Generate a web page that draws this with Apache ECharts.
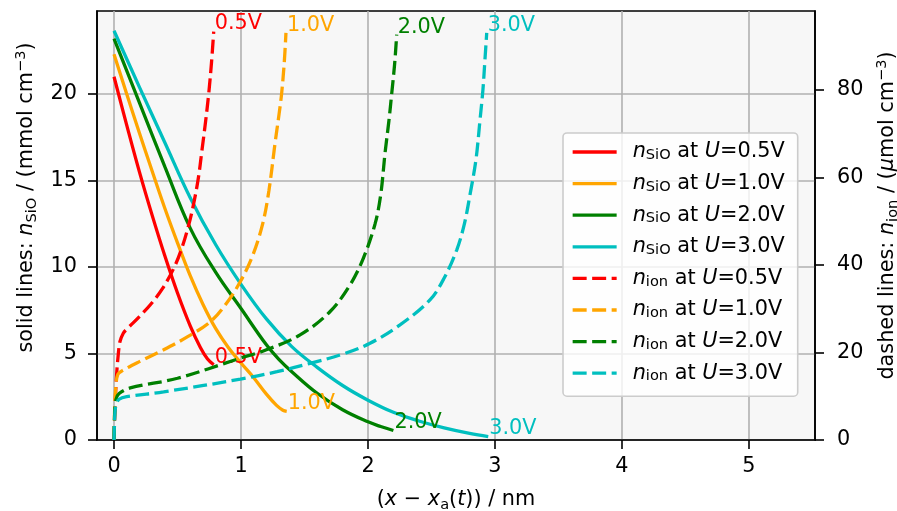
<!DOCTYPE html>
<html><head><meta charset="utf-8">
<script src="https://cdn.jsdelivr.net/npm/echarts@6/dist/echarts.min.js"></script>
<style>html,body{margin:0;padding:0;background:#fff}#c{width:897px;height:511px}</style>
</head><body><div id="c"></div>
<script>
// ---- data ----
const voltages = ['0.5V', '1.0V', '2.0V', '3.0V'];
const xTicks = [0, 1, 2, 3, 4, 5];
const leftTicks = [0, 5, 10, 15, 20];
const rightTicks = [0, 20, 40, 60, 80];

// n_SiO (left axis, mmol cm^-3)  [x nm, value]
const nSiO_05 = [[0,21.0],[0.1,18.2],[0.2,15.5],[0.3,13.0],[0.4,10.65],[0.5,8.5],[0.6,6.6],[0.68,5.35],[0.735,4.7],[0.785,4.35]];
const nSiO_10 = [[0,22.3],[0.1,20.0],[0.2,17.75],[0.3,15.55],[0.4,13.4],[0.5,11.4],[0.6,9.5],[0.7,7.85],[0.8,6.45],[0.9,5.35],[1.0,4.45],[1.1,3.6],[1.2,2.65],[1.28,2.0],[1.33,1.72],[1.36,1.65]];
const nSiO_20 = [[0,23.2],[0.2,19.5],[0.4,15.8],[0.6,12.25],[0.8,9.7],[1.0,7.6],[1.2,5.5],[1.3,4.65],[1.4,3.95],[1.6,2.7],[1.8,1.75],[2.0,1.05],[2.1,0.78],[2.2,0.55]];
const nSiO_30 = [[0,23.66],[0.2,20.4],[0.4,17.2],[0.6,14.0],[0.8,11.3],[1.0,9.0],[1.2,7.0],[1.4,5.4],[1.6,4.2],[1.8,3.15],[2.0,2.3],[2.2,1.6],[2.4,1.1],[2.6,0.7],[2.8,0.38],[2.947,0.2]];

// n_ion (right axis, umol cm^-3)
const nIon_05 = [[0,0],[0.01,9],[0.021,15.2],[0.035,20],[0.047,22.5],[0.073,24.4],[0.1,25.3],[0.2,28.2],[0.286,30.9],[0.38,34.5],[0.47,39.2],[0.53,43.5],[0.588,49.1],[0.628,54.1],[0.665,60],[0.693,66.3],[0.72,72.5],[0.746,79.2],[0.767,86],[0.785,93.3]];
const nIon_10 = [[0,0],[0.006,8],[0.015,12.5],[0.03,15.0],[0.063,15.8],[0.2,17.9],[0.391,20.6],[0.58,23.6],[0.758,27.0],[0.88,31.0],[0.995,36.2],[1.09,42.0],[1.17,49.3],[1.22,57.0],[1.268,67.8],[1.3,74.5],[1.32,79.2],[1.34,86],[1.354,93.0]];
const nIon_20 = [[0,0],[0.005,6],[0.015,9.2],[0.04,10.6],[0.128,11.9],[0.5,14.1],[0.995,18.7],[1.2,20.6],[1.465,24.0],[1.7,29.3],[1.858,35.4],[1.963,41.5],[2.055,49.3],[2.1,56],[2.134,65.5],[2.165,73],[2.187,79.2],[2.21,86],[2.226,92.6]];
const nIon_30 = [[0,0],[0.005,5],[0.015,8],[0.04,9.3],[0.1,9.9],[0.391,11.0],[0.995,13.9],[1.283,15.6],[1.543,17.5],[1.8,19.6],[2.016,22.1],[2.252,26.3],[2.488,32.0],[2.6,37.0],[2.7,43.5],[2.76,49.5],[2.803,56],[2.85,64],[2.882,73.1],[2.905,80],[2.921,86.9],[2.935,93.0]];

// ---- styling ----
const colors = ['#ff0000', '#ffa500', '#008000', '#00bfbf'];
const FONT = 'DejaVu Sans';
const FS = 20.8;
const LW = 3.3;
const sioData = [nSiO_05, nSiO_10, nSiO_20, nSiO_30];
const ionData = [nIon_05, nIon_10, nIon_20, nIon_30];

const richName = {
  it: {fontStyle: 'italic', fontSize: FS, fontFamily: FONT, lineHeight: 26},
  sub: {fontSize: 14.6, fontFamily: FONT, verticalAlign: 'bottom', lineHeight: 14.6},
  sup: {fontSize: 14.6, fontFamily: FONT, verticalAlign: 'top', lineHeight: 14.6}
};
const richLegend = {
  it: {fontStyle: 'italic', fontSize: FS, fontFamily: FONT, lineHeight: 22, color: '#000'},
  sub: {fontSize: 14.6, fontFamily: FONT, verticalAlign: 'bottom', lineHeight: 11, color: '#000'}
};

function endLabel(text, color) {
  return {show: true, formatter: text, color: color, fontSize: FS, fontFamily: FONT,
          distance: 1, align: 'left', verticalAlign: 'bottom', offset: [0, 3]};
}

const series = [];
voltages.forEach((v, i) => {
  series.push({
    name: 'sio' + v, type: 'line', data: sioData[i], yAxisIndex: 0, symbol: 'none',
    smooth: 0.4,
    lineStyle: {color: colors[i], width: LW}, itemStyle: {color: colors[i]},
    endLabel: endLabel(v, colors[i]), z: 2
  });
});
voltages.forEach((v, i) => {
  series.push({
    name: 'ion' + v, type: 'line', data: ionData[i], yAxisIndex: 1, symbol: 'none',
    smooth: 0.35,
    lineStyle: {color: colors[i], width: LW, type: [14, 5.5]}, itemStyle: {color: colors[i]},
    endLabel: endLabel(v, colors[i]), z: 3
  });
});

const legendNames = series.map(s => s.name);

const axisLineStyle = {show: true, onZero: false, lineStyle: {color: '#000', width: 1.6}};
const tickStyle = {show: true, length: 9, lineStyle: {color: '#000', width: 1.6}};
const labelStyle = {color: '#000', fontSize: FS, fontFamily: FONT};
const nameStyle = {color: '#000', fontSize: FS, fontFamily: FONT, lineHeight: 26, rich: richName};

const option = {
  animation: false,
  backgroundColor: '#ffffff',
  grid: {left: 97, right: 82, top: 11, bottom: 71, show: true, backgroundColor: '#f7f7f7',
         borderColor: '#000', borderWidth: 1.6, containLabel: false, outerBoundsMode: 'none'},
  xAxis: {
    type: 'value', min: -0.134, max: 5.52,
    axisLine: axisLineStyle,
    axisTick: Object.assign({}, tickStyle, {customValues: xTicks}),
    axisLabel: Object.assign({}, labelStyle, {margin: 16, customValues: xTicks}),
    splitLine: {show: true, lineStyle: {color: '#b0b0b0', width: 1.6}},
    name: '({it|x} − {it|x}{sub|a}({it|t})) / nm', nameLocation: 'middle', nameGap: 47,
    nameTextStyle: nameStyle
  },
  yAxis: [
    {
      type: 'value', min: 0, max: 24.8, interval: 5, position: 'left',
      axisLine: axisLineStyle,
      axisTick: Object.assign({}, tickStyle, {customValues: leftTicks}),
      axisLabel: Object.assign({}, labelStyle, {margin: 20, customValues: leftTicks}),
      splitLine: {show: true, lineStyle: {color: '#b0b0b0', width: 1.6}},
      name: 'solid lines: {it|n}{sub|SiO} / (mmol cm{sup|−3})', nameLocation: 'middle', nameRotate: 90, nameGap: 57,
      nameTextStyle: Object.assign({}, nameStyle, {padding: [0, 0, 0, 56]})
    },
    {
      type: 'value', min: 0, max: 98, interval: 20, position: 'right',
      axisLine: axisLineStyle,
      axisTick: Object.assign({}, tickStyle, {customValues: rightTicks}),
      axisLabel: Object.assign({}, labelStyle, {margin: 22, customValues: rightTicks}),
      splitLine: {show: false},
      name: 'dashed lines: {it|n}{sub|ion} / ({it|μ}mol cm{sup|−3})', nameLocation: 'middle', nameRotate: 90, nameGap: 60,
      nameTextStyle: Object.assign({}, nameStyle, {padding: [0, 0, 0, 20]})
    }
  ],
  legend: {
    data: legendNames, orient: 'vertical', left: 563, top: 133,
    padding: [8, 13, 12, 8], itemGap: 9.6, itemWidth: 44, itemHeight: 14,
    backgroundColor: 'rgba(255,255,255,0.8)', borderColor: '#cccccc', borderWidth: 1.6, borderRadius: 4,
    selectedMode: false,
    itemStyle: {opacity: 0},
    lineStyle: {width: LW, opacity: 1},
    textStyle: {color: '#000', fontSize: FS, fontFamily: FONT, lineHeight: 22, padding: [0, 0, 0, 11], rich: richLegend},
    formatter: function (name) {
      const v = name.slice(3);
      const q = name.slice(0, 3) === 'sio' ? 'SiO' : 'ion';
      return '{it|n}{sub|' + q + '} at {it|U}=' + v;
    },
    z: 10
  },
  series: series
};

const chart = echarts.init(document.getElementById('c'), null, {renderer: 'canvas'});
chart.setOption(option);
</script>
</body></html>
